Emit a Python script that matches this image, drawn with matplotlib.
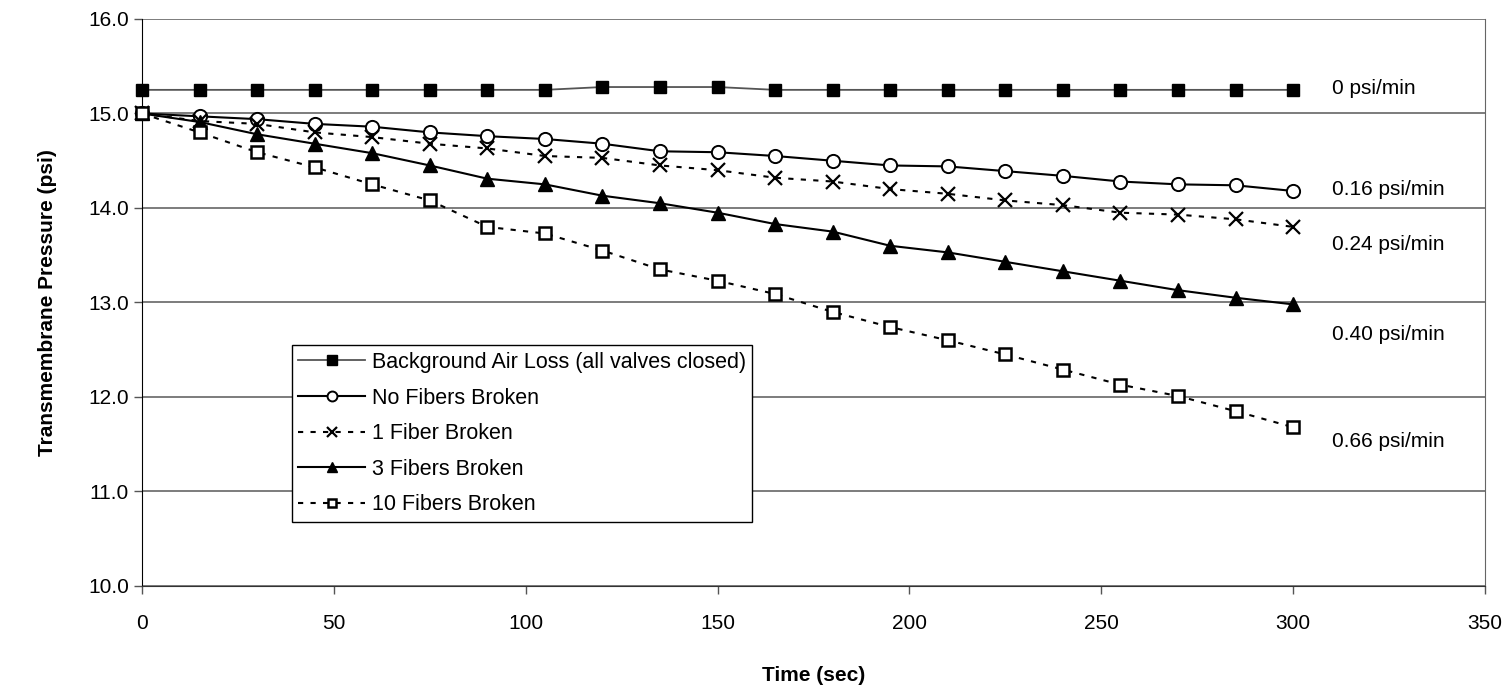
import matplotlib
matplotlib.use("Agg")
import matplotlib.pyplot as plt
import matplotlib.font_manager as fm

names = {f.name for f in fm.fontManager.ttflist}
fam = ['Liberation Sans Narrow', 'Liberation Sans', 'DejaVu Sans']
fam = [f for f in fam if f in names] or ['DejaVu Sans']
plt.rcParams['font.family'] = fam

time = [0, 15, 30, 45, 60, 75, 90, 105, 120, 135, 150, 165, 180, 195, 210, 225, 240, 255, 270, 285, 300]
background = [15.25, 15.25, 15.25, 15.25, 15.25, 15.25, 15.25, 15.25, 15.28, 15.28, 15.28, 15.25, 15.25, 15.25, 15.25, 15.25, 15.25, 15.25, 15.25, 15.25, 15.25]
no_fibers = [15.0, 14.97, 14.94, 14.89, 14.86, 14.80, 14.76, 14.73, 14.68, 14.60, 14.59, 14.55, 14.50, 14.45, 14.44, 14.39, 14.34, 14.28, 14.25, 14.24, 14.18]
one_fiber = [15.0, 14.92, 14.89, 14.80, 14.75, 14.68, 14.63, 14.55, 14.53, 14.45, 14.40, 14.32, 14.28, 14.20, 14.15, 14.08, 14.03, 13.95, 13.93, 13.88, 13.80]
three_fibers = [15.0, 14.91, 14.78, 14.68, 14.58, 14.45, 14.31, 14.25, 14.13, 14.05, 13.95, 13.83, 13.75, 13.60, 13.53, 13.43, 13.33, 13.23, 13.13, 13.05, 12.98]
ten_fibers = [15.0, 14.80, 14.59, 14.43, 14.25, 14.08, 13.80, 13.73, 13.55, 13.35, 13.23, 13.09, 12.90, 12.74, 12.60, 12.45, 12.29, 12.13, 12.01, 11.85, 11.68]

series_labels = ["Background Air Loss (all valves closed)", "No Fibers Broken",
                 "1 Fiber Broken", "3 Fibers Broken", "10 Fibers Broken"]
rate_labels = ["0 psi/min", "0.16 psi/min", "0.24 psi/min", "0.40 psi/min", "0.66 psi/min"]
rate_y = [15.26, 14.20, 13.61, 12.66, 11.53]

fig = plt.figure(figsize=(15.07, 6.88), dpi=100)
ax = fig.add_axes([0.0942, 0.1483, 0.8912, 0.8241])

dash = (0, (2.5, 3.5))
ax.plot(time, background, color='#555555', lw=1.3, marker='s', ms=9,
        mfc='black', mec='black', label=series_labels[0], clip_on=False, zorder=5)
ax.plot(time, no_fibers, color='black', lw=1.5, marker='o', ms=9.5,
        mfc='white', mec='black', mew=1.4, label=series_labels[1], clip_on=False, zorder=4)
ax.plot(time, one_fiber, color='black', lw=1.5, ls=dash, marker='x', ms=10,
        mec='black', mew=1.6, label=series_labels[2], clip_on=False, zorder=4)
ax.plot(time, three_fibers, color='black', lw=1.5, marker='^', ms=10,
        mfc='black', mec='black', label=series_labels[3], clip_on=False, zorder=4)
ax.plot(time, ten_fibers, color='black', lw=1.5, ls=dash, marker='s', ms=8,
        mfc='white', mec='black', mew=1.8, label=series_labels[4], clip_on=False, zorder=4)

for lab, yv in zip(rate_labels, rate_y):
    ax.text(310, yv, lab, fontsize=15, va='center', ha='left')

ax.set_xlim(0, 350)
ax.set_ylim(10, 16)
ax.set_xticks(range(0, 351, 50))
ax.set_yticks([10, 11, 12, 13, 14, 15, 16])
ax.set_yticklabels([f"{v:.1f}" for v in [10, 11, 12, 13, 14, 15, 16]])
ax.tick_params(axis='both', labelsize=15, direction='out', length=6, color='#555555', width=1)
ax.tick_params(axis='x', pad=14)
ax.grid(axis='y', color='#666666', lw=1.2)
ax.set_axisbelow(True)
for side in ['top', 'right']:
    ax.spines[side].set_color('#666666')
ax.spines['left'].set_color('black')
ax.spines['bottom'].set_color('#333333')
ax.spines['top'].set_visible(False)

ax.set_xlabel("Time (sec)", fontsize=15, fontweight='bold', labelpad=24)
ax.set_ylabel("Transmembrane Pressure (psi)", fontsize=15, fontweight='bold', labelpad=22)

leg = ax.legend(loc='lower left', bbox_to_anchor=(0.1117, 0.113), borderaxespad=0,
                fontsize=15.5, frameon=True, fancybox=False, edgecolor='black',
                handlelength=3.1, labelspacing=0.68, handletextpad=0.3,
                borderpad=0.3, framealpha=1, markerscale=0.75)
leg.get_frame().set_linewidth(1.0)

fig.savefig("out.png", dpi=100)
